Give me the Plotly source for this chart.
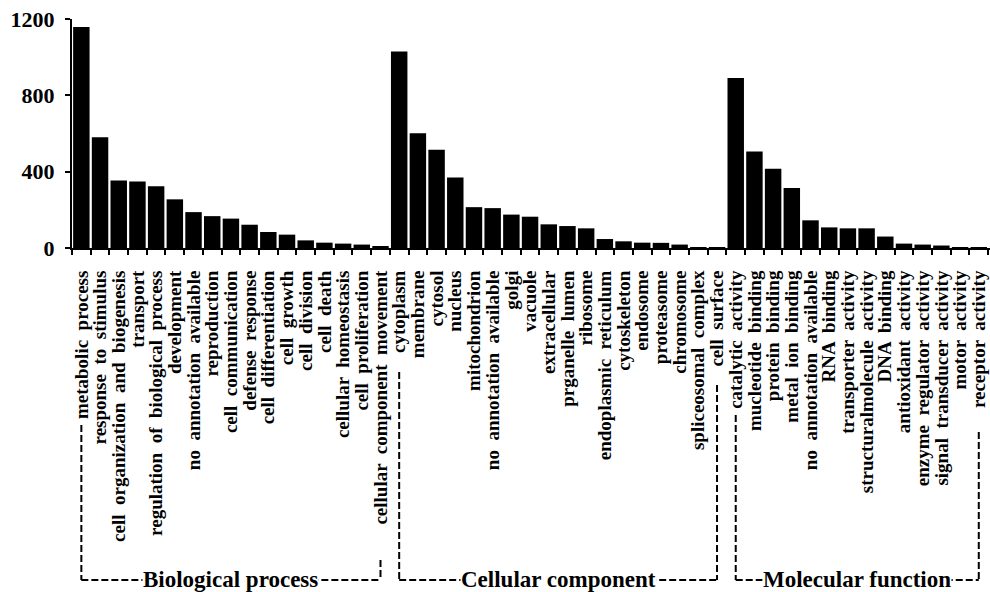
import plotly.graph_objects as go

bp_labels = ["metabolic process", "response to stimulus", "cell organization and biogenesis",
             "transport", "regulation of biological process", "development",
             "no annotation available", "reproduction", "cell communication",
             "defense response", "cell differentiation", "cell growth", "cell division",
             "cell death", "cellular homeostasis", "cell proliferation",
             "cellular component movement"]
bp_values = [1158, 581, 354, 349, 324, 255, 188, 167, 154, 122, 84, 70, 40, 28, 23, 18, 9]

cc_labels = ["cytoplasm", "membrane", "cytosol", "nucleus", "mitochondrion",
             "no annotation available", "golgi", "vacuole", "extracellular",
             "prganelle lumen", "ribosome", "endoplasmic reticulum", "cytoskeleton",
             "endosome", "proteasome", "chromosome", "spliceosomal complex", "cell surface"]
cc_values = [1030, 601, 515, 370, 214, 209, 175, 164, 124, 115, 103, 47, 35, 28, 27, 18, 2, 2]

mf_labels = ["catalytic activity", "mucleotide binding", "protein binding",
             "metal ion binding", "no annotation available", "RNA binding",
             "transporter activity", "structuralmolecule activity", "DNA binding",
             "antioxidant activity", "enzyme regulator activity",
             "signal transducer activity", "motor activity", "receptor activity"]
mf_values = [891, 506, 415, 314, 145, 108, 103, 103, 60, 23, 18, 13, 2, 1]

group_names = ["Biological process", "Cellular component", "Molecular function"]
y_ticks = [0, 400, 800, 1200]

labels = bp_labels + cc_labels + mf_labels
values = bp_values + cc_values + mf_values
xs = list(range(len(labels)))

FONT = "Liberation Serif"
W, H = 990, 592
ML, MT, MB = 72, 19, 344
plot_h = H - MT - MB


def py(ypx):
    return (H - MB - ypx) / plot_h


def wide(t):
    # the reference sets the words of each label with wide gaps
    return t.replace(" ", " \u00a0")


fig = go.Figure(go.Bar(x=xs, y=values, marker=dict(color="black", line=dict(width=0))))

shapes = []
annotations = []
line_style = dict(color="black", width=2, dash="7px,3px")
n_bp, n_cc, n_mf = len(bp_labels), len(cc_labels), len(mf_labels)
starts = [0, n_bp, n_bp + n_cc]
ends = [n_bp - 1, n_bp + n_cc - 1, n_bp + n_cc + n_mf - 1]
top_left = [425, 372, 415]
top_right = [560, 385, 432]
bottom = 580
for g in range(3):
    x0, x1 = starts[g], ends[g]
    shapes.append(dict(type="line", xref="x", yref="paper", x0=x0, x1=x0,
                       y0=py(top_left[g]), y1=py(bottom), line=line_style))
    shapes.append(dict(type="line", xref="x", yref="paper", x0=x1, x1=x1,
                       y0=py(top_right[g]), y1=py(bottom), line=line_style))
    shapes.append(dict(type="line", xref="x", yref="paper", x0=x0, x1=x1,
                       y0=py(bottom), y1=py(bottom), line=line_style))
    annotations.append(dict(x=(x0 + x1) / 2, y=py(bottom - 1), xref="x", yref="paper",
                            text="<b>%s</b>" % group_names[g], showarrow=False,
                            font=dict(family=FONT, size=23, color="black"),
                            bgcolor="white", xanchor="center", yanchor="middle",
                            borderpad=0))

fig.update_layout(
    width=W, height=H,
    margin=dict(l=ML, r=0, t=MT, b=MB),
    plot_bgcolor="white", paper_bgcolor="white",
    bargap=0.12, showlegend=False,
    shapes=shapes, annotations=annotations,
    font=dict(family=FONT, color="black"),
)
fig.update_xaxes(
    range=[-0.5, 48.6], tickmode="array", tickvals=xs,
    ticktext=["<b>%s</b>" % wide(t) for t in labels], tickangle=-90,
    tickfont=dict(family=FONT, size=19, color="black"), ticklabeloverflow="allow",
    ticks="", showline=True, linecolor="black", linewidth=2, automargin=False,
    showgrid=False, zeroline=False, ticklabelstandoff=13,
    minor=dict(tickmode="linear", tick0=-0.5, dtick=1, ticks="outside",
               ticklen=5, tickwidth=2, tickcolor="black", showgrid=False),
)
fig.update_yaxes(
    range=[0, 1200], tickmode="array", tickvals=y_ticks,
    ticktext=["<b>%d</b>" % v for v in y_ticks], automargin=False,
    tickfont=dict(family=FONT, size=22, color="black"), ticklabelstandoff=6,
    ticks="outside", ticklen=5, tickwidth=2, tickcolor="black",
    showline=True, linecolor="black", linewidth=2, showgrid=False, zeroline=False,
)

fig.write_html("out.html", config={"displayModeBar": False},
               post_script="document.body.style.margin='0';document.body.style.overflow='hidden';")
